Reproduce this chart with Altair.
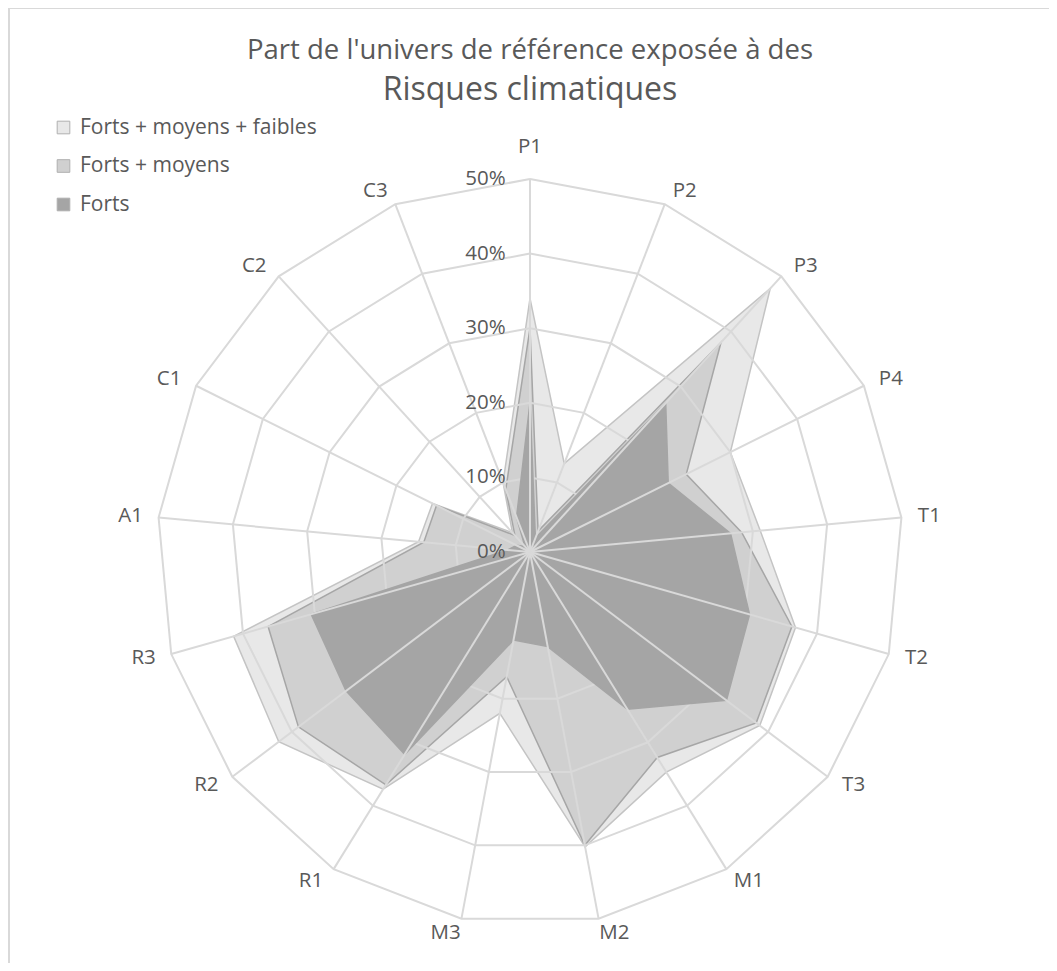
import math
import altair as alt
import pandas as pd

# ---------------- data ----------------
categories = ["P1", "P2", "P3", "P4", "T1", "T2", "T3", "M1", "M2", "M3",
              "R1", "R2", "R3", "A1", "C1", "C2", "C3"]
series_names = ["Forts + moyens + faibles", "Forts + moyens", "Forts"]
faibles = [34, 12.7, 47.8, 30, 31, 37, 38.6, 34.7, 40.2, 22, 37.4, 42.2, 41.3, 15, 14.6, 3.5, 10]
moyens = [30, 3, 38, 23.4, 28.5, 36.5, 38, 32.4, 40, 17, 36.7, 38.9, 36.5, 14.3, 14, 3, 9]
forts = [20, 2, 27, 20.7, 27, 30.6, 33, 24.8, 12.9, 12, 31.9, 30.9, 30.5, 3, 2, 1, 5]
ring_levels = [10, 20, 30, 40, 50]
pct_levels = [0, 10, 20, 30, 40, 50]
pct_labels = ["0%", "10%", "20%", "30%", "40%", "50%"]
title_line1 = "Part de l'univers de référence exposée à des"
title_line2 = "Risques climatiques"

fills = ["#e8e8e8", "#d0d0d0", "#a5a5a5"]
strokes = ["#c4c4c4", "#a6a6a6", "#a5a5a5"]
GRID = "#d9d9d9"
TXT = "#595959"
FONT = "Open Sans"

N = len(categories)
W, H = 1041, 955
CX, CY = 522, 544
PX = 7.46  # pixels per percentage point
xdom = [-CX / PX, (W - CX) / PX]
ydom = [-(H - CY) / PX, CY / PX]

# ---------------- tables ----------------
rows = []
for s, vals in zip(series_names, [faibles, moyens, forts]):
    for k in range(N + 1):
        rows.append({"series": s, "k": k, "v": vals[k % N]})
df = pd.DataFrame(rows)

ring_rows = [{"level": lv, "k": k} for lv in ring_levels for k in range(N + 1)]
df_rings = pd.DataFrame(ring_rows)
df_spokes = pd.DataFrame({"k": list(range(N)), "cat": categories})
df_pct = pd.DataFrame({"level": pct_levels, "label": pct_labels})

ANG = f"datum.k * 2 * PI / {N}"

xs = alt.Scale(domain=xdom, nice=False, zero=False)
ys = alt.Scale(domain=ydom, nice=False, zero=False)
fill_scale = alt.Scale(domain=series_names, range=fills)


def poly(i, with_legend):
    name = series_names[i]
    legend = alt.Legend(
        title=None, orient="none", legendX=45, legendY=109,
        symbolType="square", symbolSize=160, symbolStrokeColor="#b0b0b0",
        symbolStrokeWidth=1, labelFontSize=21, labelColor=TXT, labelFont=FONT,
        rowPadding=16.5, labelOffset=6, labelLimit=500,
    ) if with_legend else None
    return (
        alt.Chart(df)
        .transform_filter(alt.datum.series == name)
        .transform_calculate(px=f"datum.v * sin({ANG})", py=f"datum.v * cos({ANG})")
        .mark_line(stroke=strokes[i], strokeWidth=1.5, strokeJoin="miter")
        .encode(
            x=alt.X("px:Q", scale=xs, axis=None),
            y=alt.Y("py:Q", scale=ys, axis=None),
            order=alt.Order("k:Q"),
            fill=alt.Fill("series:N", scale=fill_scale, legend=legend),
        )
    )


rings = (
    alt.Chart(df_rings)
    .transform_calculate(px=f"datum.level * sin({ANG})", py=f"datum.level * cos({ANG})")
    .mark_line(color=GRID, strokeWidth=2)
    .encode(
        x=alt.X("px:Q", scale=xs, axis=None),
        y=alt.Y("py:Q", scale=ys, axis=None),
        order=alt.Order("k:Q"),
        detail="level:N",
    )
)

spokes = (
    alt.Chart(df_spokes)
    .transform_calculate(
        x0="0", y0="0",
        x1=f"50 * sin({ANG})", y1=f"50 * cos({ANG})",
    )
    .mark_rule(color=GRID, strokeWidth=2)
    .encode(
        x=alt.X("x0:Q", scale=xs, axis=None),
        y=alt.Y("y0:Q", scale=ys, axis=None),
        x2="x1:Q", y2="y1:Q",
    )
)

# label placement: just outside the outer ring, pushed sideways like the original
cat_labels = (
    alt.Chart(df_spokes)
    .transform_calculate(s=f"sin({ANG})", c=f"cos({ANG})")
    .transform_calculate(
        px="50 * datum.s + 3.75 * (datum.s < 0 ? -1 : 1) * pow(abs(datum.s), 1/3)",
        py="51.9 * datum.c + (abs(datum.s) < 0.01 ? 2.4 : 0)",
    )
    .mark_text(font=FONT, fontSize=20.5, color=TXT, align="center", baseline="middle")
    .encode(
        x=alt.X("px:Q", scale=xs, axis=None),
        y=alt.Y("py:Q", scale=ys, axis=None),
        text="cat:N",
    )
)

pct = (
    alt.Chart(df_pct)
    .transform_calculate(px="-3.25")
    .mark_text(font=FONT, fontSize=20.5, color=TXT, align="right", baseline="middle")
    .encode(
        x=alt.X("px:Q", scale=xs, axis=None),
        y=alt.Y("level:Q", scale=ys, axis=None),
        text="label:N",
    )
)

t1 = (
    alt.Chart(pd.DataFrame({"t": [title_line1]}))
    .mark_text(font=FONT, fontSize=27.5, color=TXT, align="center", baseline="alphabetic")
    .encode(text="t:N", x=alt.value(CX), y=alt.value(51))
)
t2 = (
    alt.Chart(pd.DataFrame({"t": [title_line2]}))
    .mark_text(font=FONT, fontSize=32, color=TXT, align="center", baseline="alphabetic")
    .encode(text="t:N", x=alt.value(CX), y=alt.value(92))
)

border_top = alt.Chart(pd.DataFrame({"a": [0]})).mark_rule(color=GRID, strokeWidth=2).encode(
    x=alt.value(0), x2=alt.value(W), y=alt.value(0))
border_left = alt.Chart(pd.DataFrame({"a": [0]})).mark_rule(color=GRID, strokeWidth=2).encode(
    x=alt.value(1), y=alt.value(0), y2=alt.value(H))

chart = (
    alt.layer(
        poly(0, True), poly(1, False), rings, poly(2, False), spokes,
        cat_labels, pct, t1, t2, border_top, border_left,
    )
    .properties(width=W, height=H, padding=0, autosize=alt.AutoSizeParams(type="none"))
    .configure_view(stroke=None)
)

chart.save("out.html", embed_options={"renderer": "svg", "actions": False})
